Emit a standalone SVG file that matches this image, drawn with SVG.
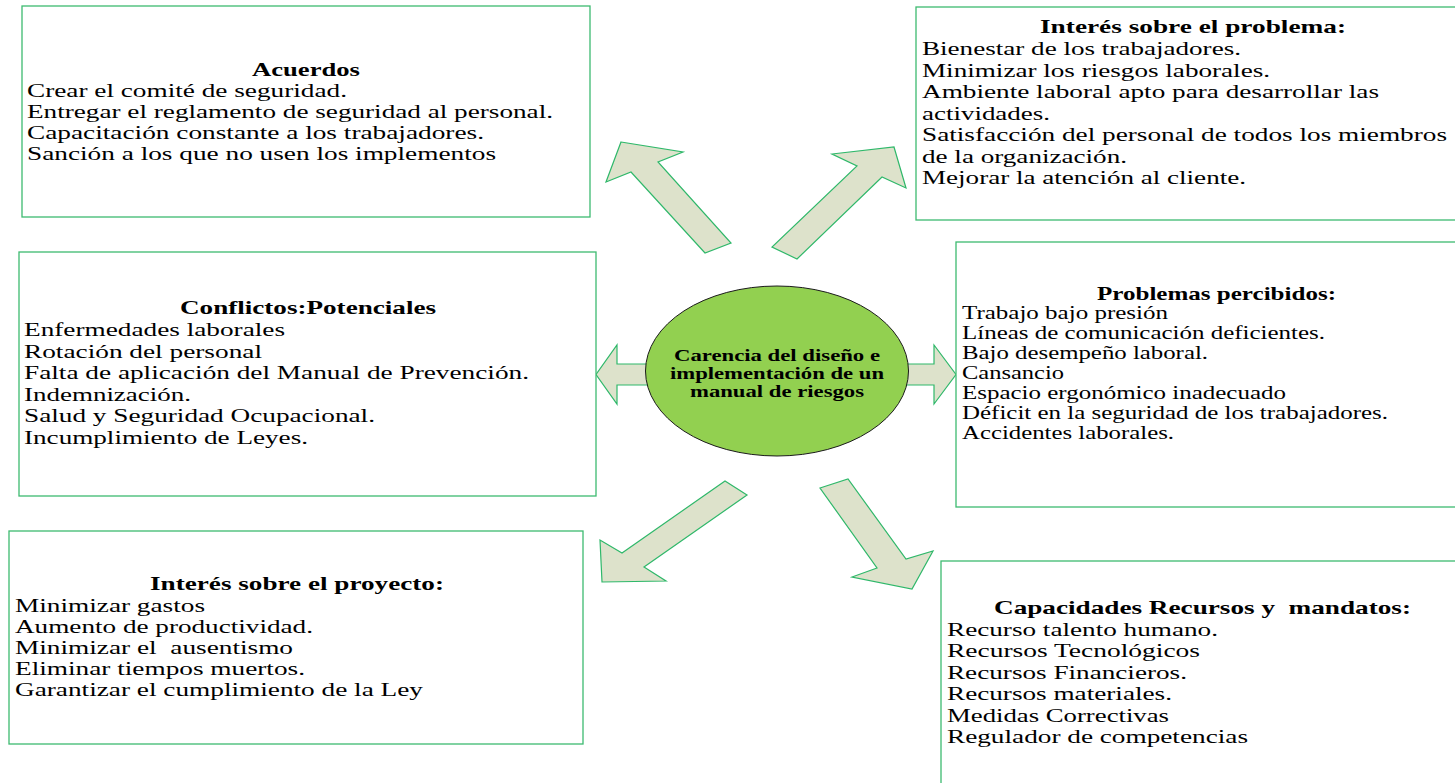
<svg xmlns="http://www.w3.org/2000/svg" width="1455" height="783" viewBox="0 0 1455 783">
<style>
.box{fill:#ffffff;stroke:#3dbb70;stroke-width:1.3}
.arr{fill:#dde2cb;stroke:#2fb86a;stroke-width:1.2;stroke-linejoin:miter}
.t{font-family:"Liberation Serif","Times New Roman",serif;font-size:19px;fill:#000;white-space:pre}
.h{font-family:"Liberation Serif","Times New Roman",serif;font-size:19px;font-weight:bold;fill:#000;white-space:pre}
.c{font-family:"Liberation Serif","Times New Roman",serif;font-size:16px;font-weight:bold;fill:#000}
</style>
<rect width="1455" height="783" fill="#ffffff"/>
<g id="connectors">
<polygon class="arr" points="621,142 683,152 658,162 731,243 705,253 631,172 606,182"/>
<polygon class="arr" points="894,147 906,188 882,177 797,259 772,247 857,166 832,154"/>
<polygon class="arr" points="660,364 617,364 617,345 596,374.5 617,404 617,385 660,385"/>
<polygon class="arr" points="895,364 934,364 934,345 956,374.5 934,404 934,385 895,385"/>
<polygon class="arr" points="747,495 725,481 622,553 600,540 602,582 666,581 644,567"/>
<polygon class="arr" points="820,488 848,479 906,559 933,551 912,589 852,577 877,568"/>
</g>
<g id="center">
<ellipse cx="777" cy="371" rx="131.5" ry="85" fill="#92d050" stroke="#1a1a1a" stroke-width="1"/>
<text class="c" x="674" y="361" textLength="206" lengthAdjust="spacingAndGlyphs">Carencia del diseño e</text>
<text class="c" x="670" y="379" textLength="214" lengthAdjust="spacingAndGlyphs">implementación de un</text>
<text class="c" x="690" y="397" textLength="174" lengthAdjust="spacingAndGlyphs">manual de riesgos</text>
</g>
<g id="acuerdos">
<rect class="box" x="22" y="6" width="568" height="211"/>
<text class="h" x="252" y="76" textLength="108" lengthAdjust="spacingAndGlyphs">Acuerdos</text>
<text class="t" x="27" y="97" textLength="320" lengthAdjust="spacingAndGlyphs">Crear el comité de seguridad.</text>
<text class="t" x="27" y="118" textLength="526" lengthAdjust="spacingAndGlyphs">Entregar el reglamento de seguridad al personal.</text>
<text class="t" x="27" y="139" textLength="457" lengthAdjust="spacingAndGlyphs">Capacitación constante a los trabajadores.</text>
<text class="t" x="27" y="160" textLength="469" lengthAdjust="spacingAndGlyphs">Sanción a los que no usen los implementos</text>
</g>
<g id="interes-problema">
<rect class="box" x="916" y="7" width="560" height="213"/>
<text class="h" x="1040" y="33" textLength="306" lengthAdjust="spacingAndGlyphs">Interés sobre el problema:</text>
<text class="t" x="922" y="55" textLength="319" lengthAdjust="spacingAndGlyphs">Bienestar de los trabajadores.</text>
<text class="t" x="922" y="76.5" textLength="348" lengthAdjust="spacingAndGlyphs">Minimizar los riesgos laborales.</text>
<text class="t" x="922" y="98" textLength="457" lengthAdjust="spacingAndGlyphs">Ambiente laboral apto para desarrollar las</text>
<text class="t" x="922" y="119.5" textLength="128" lengthAdjust="spacingAndGlyphs">actividades.</text>
<text class="t" x="922" y="141" textLength="525" lengthAdjust="spacingAndGlyphs">Satisfacción del personal de todos los miembros</text>
<text class="t" x="922" y="162.5" textLength="205" lengthAdjust="spacingAndGlyphs">de la organización.</text>
<text class="t" x="922" y="184" textLength="324" lengthAdjust="spacingAndGlyphs">Mejorar la atención al cliente.</text>
</g>
<g id="conflictos">
<rect class="box" x="19" y="252" width="577" height="244"/>
<text class="h" x="180" y="314" textLength="256" lengthAdjust="spacingAndGlyphs">Conflictos:Potenciales</text>
<text class="t" x="24" y="336" textLength="261" lengthAdjust="spacingAndGlyphs">Enfermedades laborales</text>
<text class="t" x="24" y="357.5" textLength="238" lengthAdjust="spacingAndGlyphs">Rotación del personal</text>
<text class="t" x="24" y="379" textLength="505" lengthAdjust="spacingAndGlyphs">Falta de aplicación del Manual de Prevención.</text>
<text class="t" x="24" y="400.5" textLength="167" lengthAdjust="spacingAndGlyphs">Indemnización.</text>
<text class="t" x="24" y="422" textLength="351" lengthAdjust="spacingAndGlyphs">Salud y Seguridad Ocupacional.</text>
<text class="t" x="24" y="443.5" textLength="284" lengthAdjust="spacingAndGlyphs">Incumplimiento de Leyes.</text>
</g>
<g id="problemas">
<rect class="box" x="956" y="242" width="520" height="265"/>
<text class="h" x="1097" y="300" textLength="239" lengthAdjust="spacingAndGlyphs">Problemas percibidos:</text>
<text class="t" x="962" y="319" textLength="206" lengthAdjust="spacingAndGlyphs">Trabajo bajo presión</text>
<text class="t" x="962" y="339" textLength="363" lengthAdjust="spacingAndGlyphs">Líneas de comunicación deficientes.</text>
<text class="t" x="962" y="359" textLength="246" lengthAdjust="spacingAndGlyphs">Bajo desempeño laboral.</text>
<text class="t" x="962" y="379" textLength="102" lengthAdjust="spacingAndGlyphs">Cansancio</text>
<text class="t" x="962" y="399" textLength="324" lengthAdjust="spacingAndGlyphs">Espacio ergonómico inadecuado</text>
<text class="t" x="962" y="419" textLength="426" lengthAdjust="spacingAndGlyphs">Déficit en la seguridad de los trabajadores.</text>
<text class="t" x="962" y="439" textLength="212" lengthAdjust="spacingAndGlyphs">Accidentes laborales.</text>
</g>
<g id="interes-proyecto">
<rect class="box" x="9" y="531" width="574" height="213"/>
<text class="h" x="150" y="590" textLength="294" lengthAdjust="spacingAndGlyphs">Interés sobre el proyecto:</text>
<text class="t" x="15" y="611.5" textLength="190" lengthAdjust="spacingAndGlyphs">Minimizar gastos</text>
<text class="t" x="15" y="632.5" textLength="298" lengthAdjust="spacingAndGlyphs">Aumento de productividad.</text>
<text class="t" x="15" y="653.5" textLength="278" lengthAdjust="spacingAndGlyphs">Minimizar el  ausentismo</text>
<text class="t" x="15" y="674.5" textLength="290" lengthAdjust="spacingAndGlyphs">Eliminar tiempos muertos.</text>
<text class="t" x="15" y="695.5" textLength="408" lengthAdjust="spacingAndGlyphs">Garantizar el cumplimiento de la Ley</text>
</g>
<g id="capacidades">
<rect class="box" x="941" y="561" width="535" height="240"/>
<text class="h" x="994" y="614" textLength="417" lengthAdjust="spacingAndGlyphs">Capacidades Recursos y  mandatos:</text>
<text class="t" x="947" y="636" textLength="271" lengthAdjust="spacingAndGlyphs">Recurso talento humano.</text>
<text class="t" x="947" y="657" textLength="253" lengthAdjust="spacingAndGlyphs">Recursos Tecnológicos</text>
<text class="t" x="947" y="679" textLength="240" lengthAdjust="spacingAndGlyphs">Recursos Financieros.</text>
<text class="t" x="947" y="700" textLength="225" lengthAdjust="spacingAndGlyphs">Recursos materiales.</text>
<text class="t" x="947" y="722" textLength="222" lengthAdjust="spacingAndGlyphs">Medidas Correctivas</text>
<text class="t" x="947" y="743" textLength="301" lengthAdjust="spacingAndGlyphs">Regulador de competencias</text>
</g>
</svg>
